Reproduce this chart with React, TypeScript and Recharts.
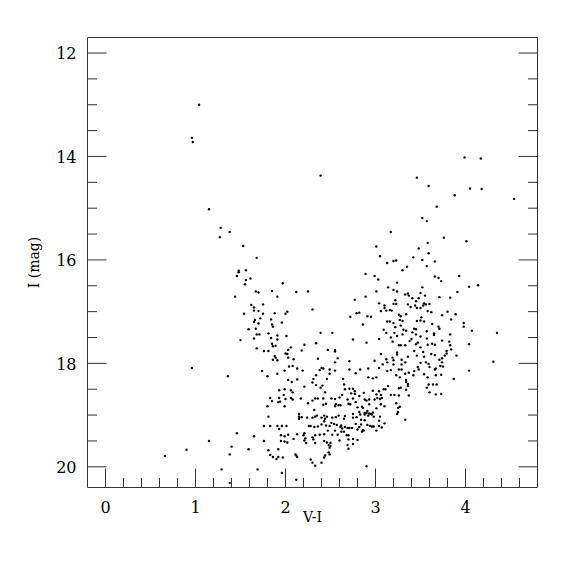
import React from 'react';
import { ScatterChart, Scatter, XAxis, YAxis } from 'recharts';

type Star = [number, number]; // [V-I, I mag]

const brightStars: Star[] = [
  [1.04, 13.0], [0.96, 13.64], [0.97, 13.72], [1.15, 15.02], [1.28, 15.38], [1.38, 15.46], [1.27, 15.56],
  [0.96, 18.09], [1.36, 18.25], [1.15, 19.5], [1.4, 19.61], [0.9, 19.67], [1.38, 19.76], [0.66, 19.79],
  [1.29, 20.05], [1.38, 20.31],
  [3.99, 14.02], [4.17, 14.04], [3.46, 14.41], [3.59, 14.57], [4.05, 14.62], [4.18, 14.63], [3.88, 14.75],
  [4.54, 14.82], [3.68, 14.97], [3.52, 15.19], [3.57, 15.25], [2.39, 14.37],
];

const blueLoop: Star[] = [
  [1.53, 15.73], [1.68, 15.96], [1.48, 16.21], [1.48, 16.24], [1.56, 16.2], [1.46, 16.31], [1.61, 16.36],
  [1.56, 16.39], [1.55, 16.47], [1.97, 16.45], [1.67, 16.61], [1.7, 16.63], [1.85, 16.6], [2.12, 16.62],
  [2.25, 16.61], [1.44, 16.71], [1.91, 16.71], [1.62, 16.87], [1.75, 16.86], [1.65, 16.92], [1.65, 16.98],
  [1.7, 16.99], [1.54, 17.04], [1.75, 17.04], [1.88, 17.03], [2.0, 17.04], [2.02, 17.0], [2.3, 16.96],
  [2.72, 17.1], [1.72, 17.13], [1.66, 17.16], [1.84, 17.15], [1.65, 17.2], [1.7, 17.23], [1.85, 17.25],
  [1.86, 17.29], [1.96, 17.21], [1.59, 17.34], [1.67, 17.33], [1.81, 17.42], [1.68, 17.44], [1.71, 17.44],
  [1.84, 17.51], [1.91, 17.46], [2.01, 17.47], [2.39, 17.41], [2.52, 17.41], [1.5, 17.55], [1.65, 17.52],
  [1.91, 17.54], [2.75, 17.54], [1.85, 17.62], [1.86, 17.67], [1.89, 17.66], [2.21, 17.64], [2.34, 17.61],
  [1.68, 17.71], [1.76, 17.76], [1.81, 17.76], [2.03, 17.74], [2.06, 17.69], [2.18, 17.75], [2.47, 17.74],
  [2.55, 17.74], [2.55, 17.77], [2.0, 17.81], [2.02, 17.82],
];

const redGiantUpper: Star[] = [
  [3.17, 15.46], [3.76, 15.57], [4.01, 15.64], [3.58, 15.67], [3.01, 15.74], [3.48, 15.78], [3.59, 15.87],
  [3.05, 15.93], [3.42, 15.95], [3.52, 16.0], [3.23, 16.01], [3.2, 16.02], [3.13, 16.06], [3.66, 16.03],
  [3.57, 16.12], [3.35, 16.13], [3.3, 16.2], [2.89, 16.27], [2.99, 16.31], [3.03, 16.38], [3.66, 16.32],
  [3.7, 16.35], [3.93, 16.31], [3.73, 16.41], [3.24, 16.44], [4.14, 16.49], [4.04, 16.52], [3.14, 16.53],
  [3.2, 16.58], [3.24, 16.61], [3.01, 16.61], [3.52, 16.53], [3.5, 16.64], [3.91, 16.62], [3.33, 16.67],
  [3.36, 16.65], [3.37, 16.69], [3.55, 16.69], [3.83, 16.73], [3.71, 16.72], [2.89, 16.71], [3.41, 16.74],
  [3.45, 16.8], [3.48, 16.74], [3.22, 16.78], [2.77, 16.77], [3.04, 16.84], [3.2, 16.85], [3.23, 16.85],
  [3.36, 16.86], [3.1, 16.88], [3.1, 16.93], [3.56, 16.86], [3.6, 16.85], [3.53, 16.88], [3.54, 16.84],
  [3.44, 16.88], [3.5, 16.93], [3.39, 16.91], [3.46, 16.93], [3.06, 16.99], [3.12, 16.98], [3.16, 16.97],
  [3.18, 16.98], [3.58, 16.99], [3.62, 17.01], [2.79, 17.03], [2.82, 17.02], [3.8, 17.0], [3.89, 17.05],
  [3.74, 17.07], [2.91, 17.09], [2.95, 17.1], [3.26, 17.06], [3.28, 17.09], [3.34, 17.05], [3.51, 17.11],
  [3.84, 17.15], [3.54, 17.19], [3.27, 17.16], [3.13, 17.19], [3.16, 17.19], [3.2, 17.22], [3.3, 17.18],
  [3.46, 17.18], [3.5, 17.17], [3.63, 17.24], [2.86, 17.25], [3.7, 17.29], [3.71, 17.33], [3.98, 17.22],
  [3.98, 17.29], [3.22, 17.3], [3.28, 17.27], [3.45, 17.34], [3.43, 17.33], [3.09, 17.35], [3.12, 17.41],
  [3.31, 17.35], [3.34, 17.37], [3.57, 17.38], [4.07, 17.37], [4.35, 17.41], [3.21, 17.41], [3.3, 17.44],
  [3.65, 17.42], [3.65, 17.45], [3.41, 17.4], [3.45, 17.44], [3.5, 17.48], [3.83, 17.44], [3.17, 17.5],
  [3.24, 17.47], [3.4, 17.53], [3.57, 17.52], [3.38, 17.57], [3.47, 17.6], [3.19, 17.58], [3.04, 17.53],
  [2.9, 17.6], [3.63, 17.62], [3.66, 17.64], [3.74, 17.56], [3.82, 17.58], [3.83, 17.65], [4.04, 17.63],
  [3.26, 17.65], [3.28, 17.65], [3.33, 17.65], [3.45, 17.63], [3.58, 17.64], [3.5, 17.69], [3.43, 17.76],
  [3.84, 17.73], [3.53, 17.78], [3.79, 17.76], [3.79, 17.81], [3.77, 17.85], [3.62, 17.82], [3.66, 17.84],
  [3.9, 17.85], [3.24, 17.79], [3.24, 17.83], [3.06, 17.82], [3.12, 17.92], [3.19, 17.89], [3.2, 17.94],
  [3.29, 17.93], [3.36, 17.87], [3.46, 17.85], [3.54, 17.87], [3.71, 17.93], [3.74, 17.9],
];

const redGiantLower: Star[] = [
  [2.99, 17.95], [3.08, 18.02], [3.13, 17.98], [3.2, 18.02], [3.33, 17.98], [3.29, 18.02], [3.5, 17.99],
  [3.56, 17.98], [3.47, 18.07], [3.48, 18.12], [3.59, 18.01], [3.6, 18.07], [3.74, 17.98], [3.75, 18.06],
  [3.72, 18.05], [3.67, 18.1], [3.66, 18.12], [4.31, 17.97], [4.04, 18.14], [2.83, 18.12], [2.92, 18.1],
  [3.04, 18.09], [3.13, 18.15], [3.17, 18.13], [3.26, 18.12], [3.29, 18.12], [3.23, 18.23], [3.27, 18.27],
  [3.33, 18.2], [3.37, 18.18], [3.43, 18.15], [3.42, 18.23], [2.78, 18.19], [2.92, 18.27], [2.97, 18.29],
  [3.01, 18.27], [3.34, 18.32], [3.36, 18.4], [3.34, 18.36], [3.36, 18.44], [3.54, 18.21], [3.58, 18.27],
  [3.67, 18.23], [3.73, 18.22], [3.87, 18.3], [3.59, 18.41], [3.64, 18.41], [3.68, 18.41], [3.57, 18.47],
  [3.6, 18.56], [3.67, 18.6], [3.73, 18.59], [3.14, 18.44], [3.09, 18.5], [3.11, 18.5], [3.04, 18.54],
  [2.97, 18.53], [3.17, 18.61], [3.21, 18.61], [3.26, 18.62], [3.37, 18.62], [3.26, 18.48], [3.28, 18.47],
  [3.34, 18.51], [3.06, 18.61], [2.77, 18.59], [2.82, 18.63], [2.87, 18.57], [2.88, 18.7], [2.9, 18.72],
  [2.93, 18.7], [3.01, 18.6], [3.02, 18.67], [2.99, 18.7], [3.05, 18.69], [3.07, 18.67], [2.93, 18.79],
  [2.78, 18.75], [2.8, 18.85], [2.85, 18.84], [2.86, 18.86], [2.91, 18.92], [2.9, 18.96], [2.93, 18.97],
  [2.95, 18.98], [2.97, 18.95], [2.96, 18.99], [2.92, 19.01], [2.88, 18.99], [2.88, 18.96], [3.01, 18.87],
  [3.06, 18.79], [3.1, 18.83], [3.23, 18.77], [3.27, 18.84], [3.25, 18.86], [3.25, 18.94], [3.24, 18.98],
  [2.98, 19.03], [3.05, 19.03], [3.04, 19.11], [2.82, 18.94], [2.83, 18.99], [2.79, 19.04], [2.84, 19.09],
  [2.88, 19.1], [2.84, 19.18], [2.91, 19.19], [2.94, 19.21], [2.96, 19.22], [2.98, 19.22], [3.04, 19.21],
  [3.1, 19.16], [2.82, 19.23], [2.8, 19.28], [2.86, 19.29], [2.85, 19.32], [2.87, 19.3], [3.33, 19.09],
  [3.01, 19.3], [3.07, 19.24], [2.8, 19.48], [2.9, 19.99],
];

const mainClump: Star[] = [
  [1.88, 17.86], [1.89, 17.89], [1.86, 17.93], [1.91, 17.94], [2.03, 17.89], [2.09, 17.92], [2.36, 17.91],
  [2.58, 17.9], [2.55, 17.98], [2.71, 17.96], [1.8, 18.25], [1.74, 18.15], [1.91, 18.2], [1.99, 18.14],
  [2.04, 18.06], [2.08, 18.05], [2.13, 18.1], [2.19, 18.14], [2.4, 18.09], [2.42, 18.1], [2.38, 18.13],
  [2.49, 18.12], [2.55, 18.14], [2.49, 18.2], [2.31, 18.3], [2.34, 18.23], [2.3, 18.37], [2.46, 18.3],
  [2.64, 18.3], [2.71, 18.12], [2.03, 18.32], [2.13, 18.31], [2.07, 18.36], [2.21, 18.45], [2.34, 18.42],
  [2.39, 18.47], [2.41, 18.43], [2.44, 18.56], [1.93, 18.52], [1.99, 18.5], [1.98, 18.61], [2.06, 18.52],
  [2.08, 18.56], [2.65, 18.41], [2.66, 18.5], [2.71, 18.49], [2.75, 18.49], [2.77, 18.54], [2.73, 18.58],
  [2.63, 18.61], [1.83, 18.67], [1.85, 18.73], [1.93, 18.67], [1.92, 18.75], [1.94, 18.74], [2.0, 18.69],
  [2.06, 18.67], [2.08, 18.7], [2.17, 18.68], [2.25, 18.77], [2.3, 18.72], [2.33, 18.68], [2.36, 18.68],
  [2.42, 18.68], [2.42, 18.8], [2.45, 18.78], [2.51, 18.68], [2.55, 18.69], [2.56, 18.79], [2.6, 18.66],
  [2.61, 18.81], [2.59, 18.81], [2.55, 18.83], [2.69, 18.7], [2.7, 18.78], [2.72, 18.79], [2.75, 18.68],
  [1.8, 18.83], [1.99, 18.83], [2.32, 18.9], [2.15, 18.98], [2.15, 19.03], [2.15, 19.07], [2.18, 19.04],
  [2.24, 19.05], [2.3, 19.05], [2.33, 19.03], [2.35, 19.01], [2.43, 19.01], [2.46, 19.03], [2.44, 19.07],
  [2.4, 19.05], [2.52, 19.05], [2.56, 19.04], [2.59, 19.01], [2.66, 19.02], [2.65, 19.07], [1.81, 19.03],
  [1.76, 19.21], [1.83, 19.21], [1.91, 19.21], [1.96, 19.21], [2.01, 19.21], [1.93, 19.27], [2.26, 19.21],
  [2.28, 19.21], [2.32, 19.23], [2.36, 19.22], [2.4, 19.18], [2.43, 19.12], [2.45, 19.2], [2.49, 19.21],
  [2.51, 19.15], [2.54, 19.17], [2.57, 19.19], [2.61, 19.23], [2.62, 19.2], [2.63, 19.26], [2.66, 19.23],
  [2.69, 19.25], [2.71, 19.25], [2.74, 19.25], [2.78, 19.17], [2.75, 19.05], [2.75, 18.98], [1.95, 19.39],
  [1.99, 19.41], [2.03, 19.38], [2.13, 19.37], [2.21, 19.35], [2.2, 19.39], [2.22, 19.45], [2.3, 19.43],
  [2.33, 19.39], [2.38, 19.38], [2.43, 19.37], [2.52, 19.38], [2.47, 19.3], [2.55, 19.3], [2.58, 19.38],
  [2.62, 19.32], [2.65, 19.32], [2.7, 19.39], [2.68, 19.39], [2.75, 19.46], [2.7, 19.47], [1.46, 19.35],
  [1.65, 19.41], [1.76, 19.5], [1.95, 19.5], [1.99, 19.51], [2.02, 19.53], [2.09, 19.46], [2.21, 19.49],
  [2.23, 19.54], [2.31, 19.47], [2.33, 19.54], [2.43, 19.5], [2.46, 19.53], [2.48, 19.58], [2.5, 19.6],
  [2.5, 19.54], [2.6, 19.49], [2.69, 19.58], [2.75, 19.56], [2.7, 19.65], [1.59, 19.66], [1.81, 19.68],
  [1.92, 19.66], [1.83, 19.77], [1.86, 19.81], [1.9, 19.85], [1.92, 19.81], [1.97, 19.82], [2.11, 19.76],
  [2.12, 19.78], [2.13, 19.81], [2.28, 19.86], [2.3, 19.92], [2.33, 19.98], [2.4, 19.92], [2.43, 19.82],
  [2.44, 19.78], [2.49, 19.76], [2.48, 19.72], [2.49, 19.63], [1.69, 20.05], [1.96, 20.12], [2.12, 20.25],
];

const xDomain: [number, number] = [-0.2, 4.8];
const yDomain: [number, number] = [11.7, 20.4];
const xTicks = [0, 0.2, 0.4, 0.6, 0.8, 1, 1.2, 1.4, 1.6, 1.8, 2, 2.2, 2.4, 2.6, 2.8, 3, 3.2, 3.4, 3.6, 3.8, 4, 4.2, 4.4, 4.6];
const xMajor = [0, 1, 2, 3, 4];
const yTicks = [12, 12.5, 13, 13.5, 14, 14.5, 15, 15.5, 16, 16.5, 17, 17.5, 18, 18.5, 19, 19.5, 20];
const yMajor = [12, 14, 16, 18, 20];
const xTitle = 'V-I';
const yTitle = 'I (mag)';

const stars = [...brightStars, ...blueLoop, ...redGiantUpper, ...redGiantLower, ...mainClump].map(
  ([vi, imag]) => ({ vi, imag })
);

const AX = '#333';
const FONT = '"DejaVu Serif", serif';
const MAJOR_LEN = 19;
const MINOR_LEN = 9.5;

const isMajor = (v: number, majors: number[]) => majors.some((m) => Math.abs(m - v) < 1e-6);

const BottomTick = (props: any) => {
  const { x, y, payload } = props;
  const major = isMajor(payload.value, xMajor);
  return (
    <g>
      <line x1={x} y1={y} x2={x} y2={y - (major ? MAJOR_LEN : MINOR_LEN)} stroke={AX} strokeWidth={1} />
      {major && (
        <text x={x} y={y + 25} textAnchor="middle" fontFamily={FONT} fontSize={16} fill="#000">
          {payload.value}
        </text>
      )}
    </g>
  );
};

const TopTick = (props: any) => {
  const { x, y, payload } = props;
  const major = isMajor(payload.value, xMajor);
  return <line x1={x} y1={y} x2={x} y2={y + (major ? MAJOR_LEN : MINOR_LEN)} stroke={AX} strokeWidth={1} />;
};

const LeftTick = (props: any) => {
  const { x, y, payload } = props;
  const major = isMajor(payload.value, yMajor);
  return (
    <g>
      <line x1={x} y1={y} x2={x + (major ? MAJOR_LEN : MINOR_LEN)} y2={y} stroke={AX} strokeWidth={1} />
      {major && (
        <text x={x - 11} y={y + 6.3} textAnchor="end" fontFamily={FONT} fontSize={16} fill="#000">
          {payload.value}
        </text>
      )}
    </g>
  );
};

const RightTick = (props: any) => {
  const { x, y, payload } = props;
  const major = isMajor(payload.value, yMajor);
  return <line x1={x} y1={y} x2={x - (major ? MAJOR_LEN : MINOR_LEN)} y2={y} stroke={AX} strokeWidth={1} />;
};

const XTitle = (props: any) => {
  const vb = props.viewBox || { x: 79.5, y: 479.5, width: 450, height: 1 };
  return (
    <text x={vb.x + vb.width / 2} y={vb.y + 34} textAnchor="middle" fontFamily={FONT} fontSize={14} fill="#000">
      {xTitle}
    </text>
  );
};

const YTitle = (props: any) => {
  const vb = props.viewBox || { x: 78.5, y: 29.5, width: 1, height: 450 };
  const cx = vb.x + vb.width - 49;
  const cy = vb.y + vb.height / 2;
  return (
    <text x={cx} y={cy} transform={`rotate(-90 ${cx} ${cy})`} textAnchor="middle" fontFamily={FONT} fontSize={14} fill="#000">
      {yTitle}
    </text>
  );
};

const Dot = (p: any) => <circle cx={p.cx} cy={p.cy} r={1.2} fill="#000" />;

export default function App() {
  return (
    <ScatterChart width={560} height={560} margin={{ top: 28.5, right: 29.5, bottom: 79.5, left: 78.5 }}>
      <XAxis
        xAxisId="b"
        dataKey="vi"
        type="number"
        orientation="bottom"
        domain={xDomain}
        allowDataOverflow
        ticks={xTicks}
        interval={0}
        height={1}
        tickSize={0}
        tickMargin={0}
        tickLine={false}
        axisLine={{ stroke: AX, strokeWidth: 1 }}
        tick={<BottomTick />}
        label={<XTitle />}
      />
      <XAxis
        xAxisId="t"
        type="number"
        orientation="top"
        domain={xDomain}
        allowDataOverflow
        ticks={xTicks}
        interval={0}
        height={1}
        tickSize={0}
        tickMargin={0}
        tickLine={false}
        axisLine={{ stroke: AX, strokeWidth: 1 }}
        tick={<TopTick />}
      />
      <YAxis
        yAxisId="l"
        dataKey="imag"
        type="number"
        orientation="left"
        domain={yDomain}
        reversed
        allowDataOverflow
        ticks={yTicks}
        interval={0}
        width={1}
        tickSize={0}
        tickMargin={0}
        tickLine={false}
        axisLine={{ stroke: AX, strokeWidth: 1 }}
        tick={<LeftTick />}
        label={<YTitle />}
      />
      <YAxis
        yAxisId="r"
        type="number"
        orientation="right"
        domain={yDomain}
        reversed
        allowDataOverflow
        ticks={yTicks}
        interval={0}
        width={1}
        tickSize={0}
        tickMargin={0}
        tickLine={false}
        axisLine={{ stroke: AX, strokeWidth: 1 }}
        tick={<RightTick />}
      />
      <Scatter
        xAxisId="b"
        yAxisId="l"
        data={stars}
        isAnimationActive={false}
        shape={<Dot />}
      />
    </ScatterChart>
  );
}
